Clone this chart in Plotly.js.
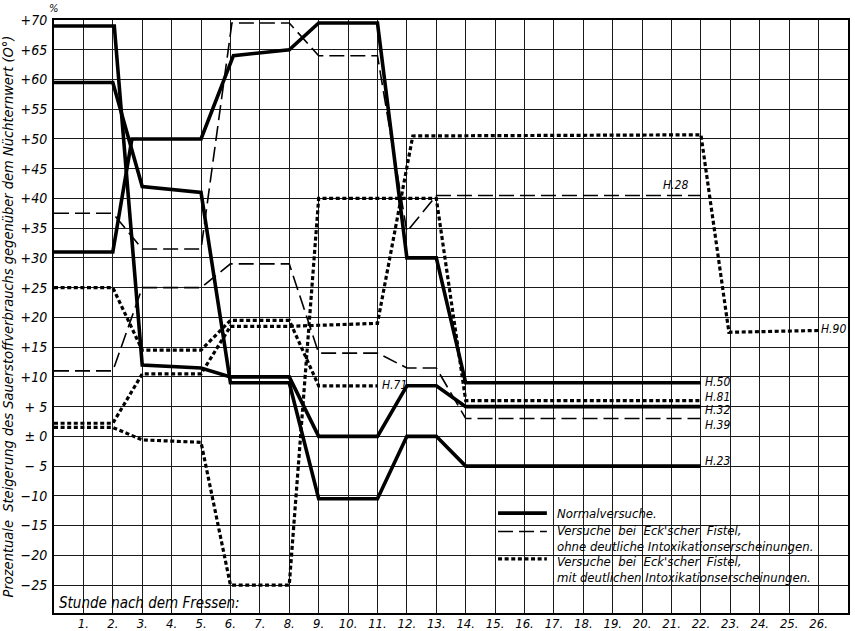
<!DOCTYPE html>
<html><head><meta charset="utf-8">
<script src="https://cdn.plot.ly/plotly-3.0.1.min.js"></script>
<style>html,body{margin:0;padding:0;background:#fff}#chart{width:855px;height:631px}</style>
</head><body><div id="chart"></div>
<script>
// ---- axis ticks ----
const hours = [1,2,3,4,5,6,7,8,9,10,11,12,13,14,15,16,17,18,19,20,21,22,23,24,25,26,27];
const hourLabels = hours.map(h => h + '.');
const yTickVals = [-25,-20,-15,-10,-5,0,5,10,15,20,25,30,35,40,45,50,55,60,65,70];
const yTickText = ['−25','−20','−15','−10','− 5','± 0','+ 5','+10','+15','+20','+25','+30','+35','+40','+45','+50','+55','+60','+65','+70'];

// ---- Normalversuche (solid) ----
const h50x = [0,2,2.65,5,6.1,8,9,11,12,13,14,22];
const h50y = [31,31,50,50,64,65,69.5,69.5,30,30,9,9];
const h32x = [0,2.05,3,5,6,8,9,11,12,13,14,22];
const h32y = [69,69,12,11.5,10,10,0,0,8.5,8.5,5,5];
const h23x = [0,2,3,5,6,8,9,11,12,13,14,22];
const h23y = [59.5,59.5,42,41,9,9,-10.5,-10.5,0,0,-5,-5];

// ---- Eck'sche Fistel ohne Intoxikation (dashed) ----
const h28x = [0,2,3,5,6.05,8,9,11,12,13,22];
const h28y = [37.5,37.5,31.5,31.5,69.5,69.5,64,64,34.4,40.5,40.5];
const h39x = [0,2,3,5,6,8,9,11,12,13,14,22];
const h39y = [11,11,25,25,29,29,14,14,11.5,11.5,3,3];

// ---- Eck'sche Fistel mit Intoxikation (dotted) ----
const h71x = [0,2,3,5,6,8,9,11];
const h71y = [25,25,14.5,14.5,19.5,19.5,8.5,8.5];
const h90x = [0,2,3,5,6,8,11,12.2,22,22.95,26];
const h90y = [2.2,2.2,10.5,10.5,18.5,18.5,19,50.5,50.7,17.5,17.8];
const h81x = [0,2,3,5,6,8,9,13,14,22];
const h81y = [1.5,1.5,-0.6,-1,-25,-25,40,40,6,6];

// ---- series labels ----
const seriesLabels = [
  {text:'H.28', x:21.15, y:42.3, xa:'center'},
  {text:'H.71', x:11.08, y:8.7, xa:'left'},
  {text:'H.50', x:22.07, y:9.2, xa:'left'},
  {text:'H.81', x:22.07, y:6.6, xa:'left'},
  {text:'H.32', x:22.07, y:4.4, xa:'left'},
  {text:'H.39', x:22.07, y:1.9, xa:'left'},
  {text:'H.23', x:22.07, y:-4.2, xa:'left'},
  {text:'H.90', x:26.0, y:18.0, xa:'left'}
];
const legendLines = [
  ['Normalversuche.'],
  ["Versuche  bei  Eck'scher  Fistel,", 'ohne deutliche Intoxikationserscheinungen.'],
  ["Versuche  bei  Eck'scher  Fistel,", 'mit deutlichen Intoxikationserscheinungen.']
];

const FONT = '"DejaVu Sans Condensed", "Liberation Sans Narrow", "DejaVu Sans", sans-serif';
const SOLID = {color:'#000', width:3.6};
const DASHED = {color:'#000', width:1.6, dash:'15px,6px'};
const DOTTED = {color:'#000', width:3.2, dash:'4px,2.6px'};

function tr(x, y, line){ return {x:x, y:y, mode:'lines', line:line, showlegend:false, hoverinfo:'skip'}; }
const data = [
  tr(h28x,h28y,DASHED), tr(h39x,h39y,DASHED),
  tr(h71x,h71y,DOTTED), tr(h90x,h90y,DOTTED), tr(h81x,h81y,DOTTED),
  tr(h50x,h50y,SOLID), tr(h32x,h32y,SOLID), tr(h23x,h23y,SOLID)
];

const annotations = seriesLabels.map(s => ({
  text:s.text, x:s.x, y:s.y, xref:'x', yref:'y', xanchor:s.xa, yanchor:'middle',
  showarrow:false, font:{family:FONT, size:12, style:'italic', color:'#000'}
}));
// legend text
const legY = [[-12.9],[-15.9,-18.6],[-21.0,-23.7]];
legendLines.forEach((lines,i)=>lines.forEach((t,j)=>annotations.push({
  text:t, x:17.04, y:legY[i][j], xref:'x', yref:'y', xanchor:'left', yanchor:'middle',
  showarrow:false, font:{family:FONT, size:13, style:'italic', color:'#000'}
})));
annotations.push({text:'Stunde nach dem Fressen:', x:0.1, y:-28.1, xref:'x', yref:'y', xanchor:'left', yanchor:'middle',
  showarrow:false, font:{family:FONT, size:15, style:'italic', color:'#000'}});
annotations.push({text:'%', x:-0.0076, y:1.0186, xref:'paper', yref:'paper', xanchor:'left', yanchor:'middle',
  showarrow:false, borderpad:0, font:{family:FONT, size:11, style:'italic', color:'#000'}});

const legSampleY = [-12.9,-16.0,-20.6];
const legStyles = [SOLID, DASHED, DOTTED];
const shapes = legSampleY.map((y,i)=>({type:'line', xref:'x', yref:'y', x0:15.1, x1:16.76, y0:y, y1:y, line:legStyles[i]}));

const layout = {
  width:855, height:631,
  margin:{l:54, r:7, t:20, b:18},
  paper_bgcolor:'#fff', plot_bgcolor:'#fff',
  showlegend:false,
  xaxis:{range:[0,27], tickvals:hours, ticktext:hourLabels, showgrid:true, gridcolor:'#1a1a1a', gridwidth:1,
    showline:true, mirror:true, linecolor:'#000', linewidth:2, zeroline:false, ticks:'', ticklabelstandoff:-3,
    tickfont:{family:FONT, size:13, style:'italic', color:'#000'}, fixedrange:true},
  yaxis:{range:[-29.7,70], tickvals:yTickVals, ticktext:yTickText, showgrid:true, gridcolor:'#1a1a1a', gridwidth:1,
    showline:true, mirror:true, linecolor:'#000', linewidth:2, zeroline:false, ticks:'', ticklabelstandoff:2,
    tickfont:{family:FONT, size:14, style:'italic', color:'#000'}, fixedrange:true,
    title:{text:'Prozentuale  Steigerung des Sauerstoffverbrauchs gegenüber dem Nüchternwert (O°)',
      font:{family:FONT, size:14.5, style:'italic', color:'#000'}, standoff:6}},
  annotations:annotations, shapes:shapes
};
Plotly.newPlot('chart', data, layout, {staticPlot:true, displayModeBar:false});
</script></body></html>
